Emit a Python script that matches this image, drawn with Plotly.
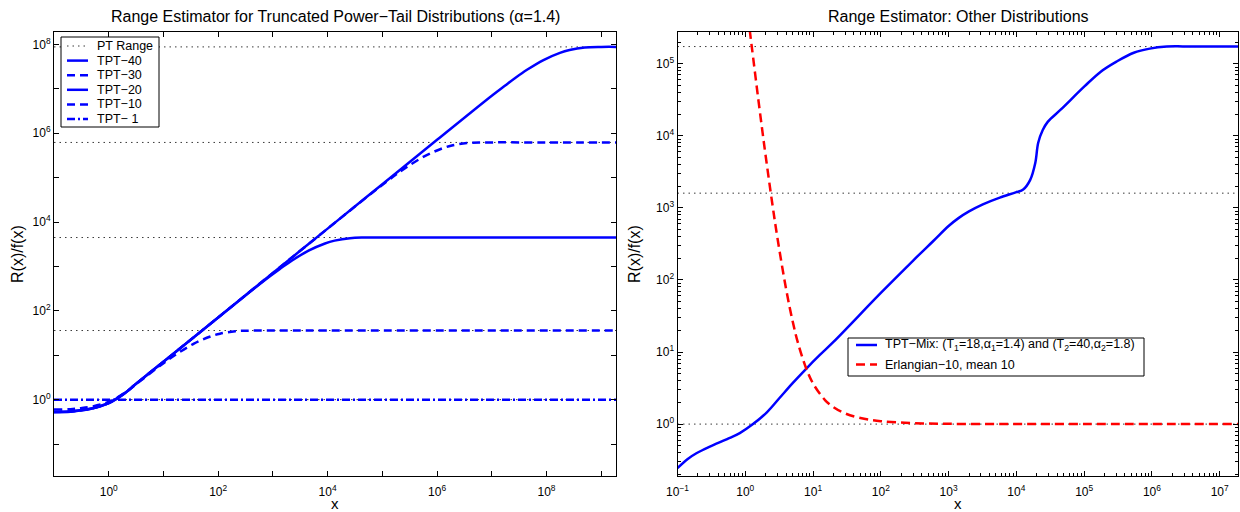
import plotly.graph_objects as go

FONT = "Liberation Sans, Arial, Helvetica, sans-serif"
M = "\u2212"  # minus sign as rendered in the original

# ---------------- Left panel data (alpha = 1.4) ----------------
span_left = [0.1, 2e9]
pt_range_left = [1.0, 36, 4480, 6.2e5, 8.8e7]

tpt40_x = [0.1, 0.2, 0.3, 0.5, 1, 2, 3, 5, 10, 100, 1e3, 1e4, 1e5, 1e6, 1e7,
           1.76e7, 2.64e7, 4.4e7, 8.8e7, 1.76e8, 2.64e8, 5e8, 1e9, 2e9]
tpt40_y = [0.52, 0.535, 0.567, 0.63, 0.83, 1.42, 2.16, 3.6, 7.1, 71, 714, 7.1e3,
           7.1e4, 7.1e5, 7.0e6, 1.19e7, 1.73e7, 2.68e7, 4.45e7, 6.46e7, 7.49e7,
           8.52e7, 8.79e7, 8.8e7]

tpt30_x = [0.1, 0.2, 0.3, 0.5, 1, 2, 3, 5, 10, 100, 1e3, 1e4, 6.2e4, 1.24e5,
           1.86e5, 3.1e5, 6.2e5, 1.24e6, 1.86e6, 3.5e6, 7e6, 1e8, 2e9]
tpt30_y = [0.525, 0.54, 0.57, 0.635, 0.835, 1.42, 2.16, 3.6, 7.1, 71, 714, 7.1e3,
           4.34e4, 8.41e4, 1.218e5, 1.885e5, 3.13e5, 4.55e5, 5.28e5, 6.0e5,
           6.19e5, 6.2e5, 6.2e5]

tpt20_x = [0.1, 0.2, 0.3, 0.5, 1, 2, 3, 5, 10, 100, 448, 896, 1344, 2240, 4480,
           8960, 1.344e4, 2.55e4, 5e4, 1e6, 2e9]
tpt20_y = [0.53, 0.545, 0.575, 0.64, 0.84, 1.42, 2.16, 3.6, 7.1, 71, 313, 608,
           880, 1362, 2265, 3291, 3812, 4337, 4475, 4480, 4480]

tpt10_x = [0.1, 0.2, 0.3, 0.5, 1, 2, 3.6, 7.2, 10.8, 18, 36, 72, 108, 205, 400,
           1e4, 2e9]
tpt10_y = [0.6, 0.61, 0.64, 0.7, 0.89, 1.45, 2.52, 4.89, 7.07, 10.95, 18.2, 26.4,
           30.6, 34.8, 35.9, 36, 36]

tpt1_x = [0.1, 2e9]
tpt1_y = [1.0, 1.0]

# ---------------- Right panel data ----------------
span_right = [0.1, 2e7]
pt_range_right = [1.0, 1600, 1.73e5]

mix_x = [0.1, 0.14, 0.19, 0.3, 0.54, 0.83, 1.3, 2.1, 3.2, 5.0, 8.1, 12.6, 20, 100,
         300, 600, 1000, 1400, 2000, 3200, 5700, 1e4, 1.26e4, 1.6e4, 1.9e4, 2.1e4,
         2.45e4, 2.9e4, 4.5e4, 1e5, 1.74e5, 3e5, 5.4e5, 9.3e5, 1.66e6, 3e6, 2e7]
mix_y = [0.245, 0.326, 0.394, 0.488, 0.62, 0.75, 1.0, 1.47, 2.3, 3.7, 6.0, 9.1,
         13.8, 66, 186, 350, 560, 721, 893, 1120, 1390, 1650, 1800, 2450, 4200,
         8000, 1.2e4, 1.56e4, 2.3e4, 4.8e4, 7.7e4, 1.07e5, 1.42e5, 1.62e5, 1.73e5,
         1.74e5, 1.74e5]

erl_x = [1.1, 1.2, 1.3, 1.5, 1.75, 2, 2.5, 3, 4, 5, 6, 8, 10, 15, 20, 30, 50, 100,
         300, 1e3, 1e4, 1e5, 2e7]
erl_y = [4.6e5, 2.3e5, 1.26e5, 4.23e4, 1.357e4, 5237, 1158, 370, 75, 26.7, 13.3,
         5.78, 3.66, 2.155, 1.718, 1.403, 1.213, 1.098, 1.031, 1.009, 1.001, 1.0, 1.0]

# legend texts
left_legend = ["PT Range", "TPT" + M + "40", "TPT" + M + "30", "TPT" + M + "20",
               "TPT" + M + "10", "TPT" + M + " 1"]
right_legend = ["TPT" + M + "Mix: (T<sub>1</sub>=18,α<sub>1</sub>=1.4) and "
                "(T<sub>2</sub>=40,α<sub>2</sub>=1.8)",
                "Erlangian" + M + "10, mean 10"]

# tick labels
left_x_ticks = [10.0 ** k for k in range(-1, 10)]
left_x_text = ["10<sup>%d</sup>" % k if (k >= 0 and k % 2 == 0) else "" for k in range(-1, 10)]
left_y_ticks = [10.0 ** k for k in range(-1, 9)]
left_y_text = ["10<sup>%d</sup>" % k if (k >= 0 and k % 2 == 0) else "" for k in range(-1, 9)]
right_x_ticks = [10.0 ** k for k in range(-1, 8)]
right_x_text = ["10<sup>%s</sup>" % (str(k).replace("-", M)) for k in range(-1, 8)]
right_y_ticks = [10.0 ** k for k in range(0, 6)]
right_y_text = ["10<sup>%d</sup>" % k for k in range(0, 6)]
right_x_minor = [m * 10.0 ** k for k in range(-1, 8) for m in range(2, 10)]
right_y_minor = [m * 10.0 ** k for k in range(-1, 6) for m in range(2, 10)]

BLUE = "#0000ff"
RED = "#ff0000"
DOT_COLOR = "#3a3a3a"
DOT_DASH = "1.5px,4px"
DASH = "8px,5px"
DASHDOT = "8px,3px,2px,3px"
RED_DASH = "9px,5px"
LW = 2.5

fig = go.Figure()

for v in pt_range_left:
    fig.add_trace(go.Scatter(x=span_left, y=[v, v], mode="lines",
                             line=dict(color=DOT_COLOR, width=1, dash=DOT_DASH),
                             name="PT Range", showlegend=False, xaxis="x", yaxis="y",
                             hoverinfo="skip"))

left_series = [
    (tpt40_x, tpt40_y, "solid"),
    (tpt30_x, tpt30_y, DASH),
    (tpt20_x, tpt20_y, "solid"),
    (tpt10_x, tpt10_y, DASH),
]
for (xs, ys, dsh), nm in zip(left_series, left_legend[1:5]):
    fig.add_trace(go.Scatter(x=xs, y=ys, mode="lines", name=nm, showlegend=False,
                             line=dict(color=BLUE, width=LW, dash=dsh, shape="spline"),
                             xaxis="x", yaxis="y"))
fig.add_trace(go.Scatter(x=tpt1_x, y=tpt1_y, mode="lines", name=left_legend[5], showlegend=False,
                         line=dict(color=BLUE, width=LW, dash=DASHDOT), xaxis="x", yaxis="y"))

for v in pt_range_right:
    fig.add_trace(go.Scatter(x=span_right, y=[v, v], mode="lines",
                             line=dict(color=DOT_COLOR, width=1, dash=DOT_DASH),
                             showlegend=False, xaxis="x2", yaxis="y2", hoverinfo="skip"))

fig.add_trace(go.Scatter(x=mix_x, y=mix_y, mode="lines", name=right_legend[0], showlegend=False,
                         line=dict(color=BLUE, width=LW, shape="spline"),
                         xaxis="x2", yaxis="y2"))
fig.add_trace(go.Scatter(x=erl_x, y=erl_y, mode="lines", name=right_legend[1], showlegend=False,
                         line=dict(color=RED, width=LW, dash=RED_DASH, shape="spline"),
                         xaxis="x2", yaxis="y2"))

W, H = 1240, 512
def px(v):
    return v / W
def py(v):
    return 1 - v / H

tickfont = dict(family=FONT, size=12, color="black")
common = dict(type="log", ticks="inside", ticklen=5, tickcolor="black", tickwidth=1,
              showline=True, linecolor="black", linewidth=1, mirror="ticks",
              showgrid=False, zeroline=False, tickfont=tickfont, tickmode="array",
              automargin=False)

ydom = [py(476), py(32)]

fig.update_layout(
    template="none",
    width=W, height=H, margin=dict(l=0, r=0, t=0, b=0, pad=0),
    paper_bgcolor="white", plot_bgcolor="white",
    font=dict(family=FONT, size=12, color="black"),
    showlegend=False,
    xaxis=dict(domain=[px(54), px(616)], range=[-1, 9.27], tickvals=left_x_ticks,
               ticktext=left_x_text, anchor="y", ticklabelstandoff=5, **common),
    yaxis=dict(domain=ydom, range=[-1.72, 8.28], tickvals=left_y_ticks,
               ticktext=left_y_text, anchor="x", **common),
    xaxis2=dict(domain=[px(677.5), px(1238)], range=[-1, 7.27], tickvals=right_x_ticks,
                ticktext=right_x_text, anchor="y2", ticklabelstandoff=5,
                minor=dict(tickmode="array", tickvals=right_x_minor, ticks="inside",
                           ticklen=3, tickcolor="black"), **common),
    yaxis2=dict(domain=ydom, range=[-0.72, 5.44], tickvals=right_y_ticks,
                ticktext=right_y_text, anchor="x2",
                minor=dict(tickmode="array", tickvals=right_y_minor, ticks="inside",
                           ticklen=3, tickcolor="black"), **common),
    hovermode=False,
)

shapes = []
annots = []

# ---- manual legend, left panel ----
shapes.append(dict(type="rect", xref="paper", yref="paper", x0=px(61), x1=px(159),
                   y0=py(127), y1=py(37), line=dict(color="black", width=1),
                   fillcolor="white", layer="above"))
left_styles = [dict(color=DOT_COLOR, width=1, dash=DOT_DASH),
               dict(color=BLUE, width=LW, dash="solid"),
               dict(color=BLUE, width=LW, dash=DASH),
               dict(color=BLUE, width=LW, dash="solid"),
               dict(color=BLUE, width=LW, dash=DASH),
               dict(color=BLUE, width=LW, dash=DASHDOT)]
for i, (txt, st) in enumerate(zip(left_legend, left_styles)):
    yy = 46 + i * 14.6
    shapes.append(dict(type="line", xref="paper", yref="paper", x0=px(67), x1=px(88),
                       y0=py(yy), y1=py(yy), line=st, layer="above"))
    annots.append(dict(x=px(95), y=py(yy), text=txt, xanchor="left", yanchor="middle",
                       font=dict(size=12.5)))

# ---- manual legend, right panel ----
shapes.append(dict(type="rect", xref="paper", yref="paper", x0=px(848), x1=px(1144),
                   y0=py(376), y1=py(338), line=dict(color="black", width=1),
                   fillcolor="white", layer="above"))
right_styles = [dict(color=BLUE, width=LW, dash="solid"),
                dict(color=RED, width=LW, dash=RED_DASH)]
for i, (txt, st) in enumerate(zip(right_legend, right_styles)):
    yy = 345 + i * 19.5
    shapes.append(dict(type="line", xref="paper", yref="paper", x0=px(856), x1=px(877),
                       y0=py(yy), y1=py(yy), line=st, layer="above"))
    annots.append(dict(x=px(883), y=py(yy), text=txt, xanchor="left", yanchor="middle",
                       font=dict(size=12.5)))

annots += [
    dict(x=px(335), y=py(16), text="Range Estimator for Truncated Power" + M + "Tail Distributions (α=1.4)",
         font=dict(size=16)),
    dict(x=px(958), y=py(16), text="Range Estimator: Other Distributions", font=dict(size=16)),
    dict(x=px(335), y=py(503), text="x", font=dict(size=15)),
    dict(x=px(958), y=py(503), text="x", font=dict(size=15)),
    dict(x=px(17), y=py(254), text="R(x)/f(x)", textangle=-90, font=dict(size=16)),
    dict(x=px(634), y=py(254), text="R(x)/f(x)", textangle=-90, font=dict(size=16)),
]
for a in annots:
    a.setdefault("xanchor", "center")
    a.setdefault("yanchor", "middle")
    a.update(xref="paper", yref="paper", showarrow=False)
    a["font"] = dict(family=FONT, color="black", **a["font"])
fig.update_layout(annotations=annots, shapes=shapes)

fig.write_html("out.html")
